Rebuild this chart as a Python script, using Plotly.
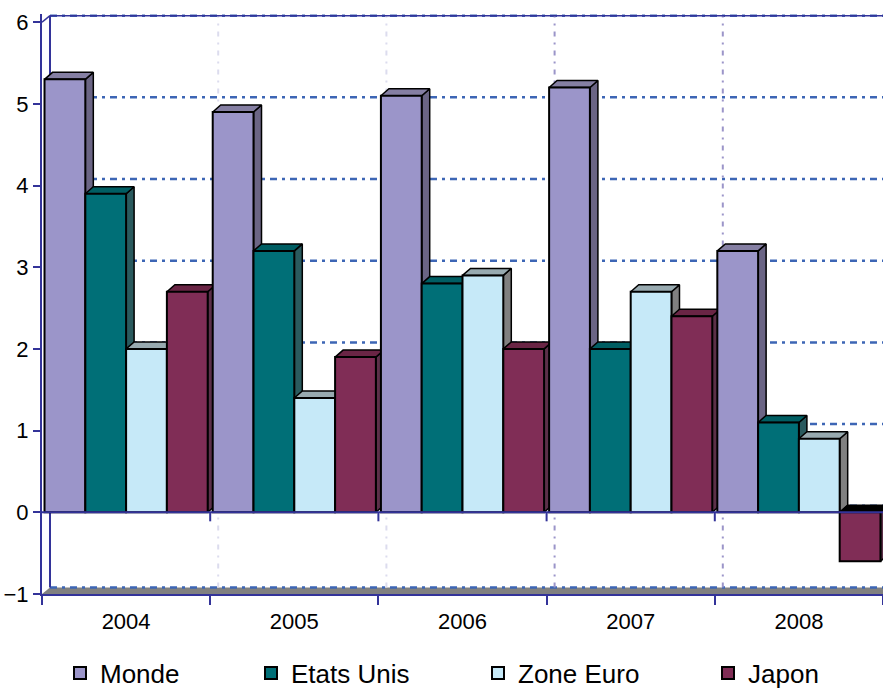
import plotly.graph_objects as go

# ---------------- data ----------------
years = ["2004", "2005", "2006", "2007", "2008"]
series_names = ["Monde", "Etats Unis", "Zone Euro", "Japon"]
monde = [5.3, 4.9, 5.1, 5.2, 3.2]
etats_unis = [3.9, 3.2, 2.8, 2.0, 1.1]
zone_euro = [2.0, 1.4, 2.9, 2.7, 0.9]
japon = [2.7, 1.9, 2.0, 2.4, -0.6]
y_ticks = [-1, 0, 1, 2, 3, 4, 5, 6]

series_values = [monde, etats_unis, zone_euro, japon]

# ---------------- styles ----------------
front_colors = ["#9B95C9", "#006F77", "#C6E9F8", "#802D56"]
top_colors = ["#857FA3", "#005E63", "#98AAB0", "#6A2545"]
side_colors = ["#6B6585", "#2A5A5E", "#808080", "#5C3049"]
axis_blue = "#333399"
grid_blue = "#3D66B5"
vgrid_colors = ["#DCDCEE", "#DCDCEE", "#9B95C9", "#9B95C9"]

W, H = 883, 688
ML, MR, MT, MB = 42, 0, 14, 94
X_RANGE = [-0.5, 4.5]
Y_RANGE = [-1, 6.1]
px_x = (W - ML - MR) / (X_RANGE[1] - X_RANGE[0])
px_y = (H - MT - MB) / (Y_RANGE[1] - Y_RANGE[0])
DX = 8 / px_x          # depth offset (x units)
DY = 7 / px_y          # depth offset (y units)
DYW = 6.5 / px_y       # back wall offset
BARGAP = 0.03
bw = (1 - BARGAP) / len(series_names)

fig = go.Figure()

# ---------- depth faces (main subplot, under the fronts) ----------
for s, vals in enumerate(series_values):
    sx, sy, tx, ty, nx, ny = [], [], [], [], [], []
    for i, v in enumerate(vals):
        x0 = i - (1 - BARGAP) / 2 + s * bw
        x1 = x0 + bw
        top = max(v, 0)
        # side face
        sx += [x1, x1, x1 + DX, x1 + DX, x1, None]
        sy += [min(v, 0), top, top + DY, min(v, 0) + DY, min(v, 0), None]
        # top face
        fx = [x0, x1, x1 + DX, x0 + DX, x0, None]
        fy = [top, top, top + DY, top + DY, top, None]
        if v < 0:
            nx += fx; ny += fy
        else:
            tx += fx; ty += fy
    fig.add_trace(go.Scatter(x=sx, y=sy, mode="lines", fill="toself",
                             fillcolor=side_colors[s], line=dict(color="black", width=1.5),
                             showlegend=False, hoverinfo="skip"))
    fig.add_trace(go.Scatter(x=tx, y=ty, mode="lines", fill="toself",
                             fillcolor=top_colors[s], line=dict(color="black", width=1.5),
                             showlegend=False, hoverinfo="skip"))
    if nx:
        fig.add_trace(go.Scatter(x=nx, y=ny, mode="lines", fill="toself",
                                 fillcolor="black", line=dict(color="black", width=1.5),
                                 showlegend=False, hoverinfo="skip"))

# ---------- bar fronts (overlay subplot, on top) ----------
legend_ids = ["legend", "legend2", "legend3", "legend4"]
for s, (name, vals) in enumerate(zip(series_names, series_values)):
    fig.add_trace(go.Bar(x=years, y=vals, name=name, xaxis="x2", yaxis="y2",
                         marker=dict(color=front_colors[s], line=dict(color="black", width=2)),
                         legend=legend_ids[s]))

# ---------- back wall, floor and grid (shapes) ----------
shapes = []
# floor
shapes.append(dict(type="path", xref="x", yref="y", layer="below",
                   path=f"M{X_RANGE[0]},{Y_RANGE[0]} L{X_RANGE[1] + DX},{Y_RANGE[0]} "
                        f"L{X_RANGE[1] + DX},{Y_RANGE[0] + DYW} L{X_RANGE[0] + DX},{Y_RANGE[0] + DYW} Z",
                   fillcolor="#808080", line=dict(width=0)))
# horizontal back-wall grid
for k in y_ticks:
    shapes.append(dict(type="line", xref="x", yref="y", layer="below",
                       x0=X_RANGE[0] + DX, x1=X_RANGE[1] + DX, y0=k + DYW, y1=k + DYW,
                       line=dict(color=grid_blue, width=2.5, dash="7px,5px,3px,5px")))
# vertical back-wall grid at category boundaries
for j, b in enumerate([0.5, 1.5, 2.5, 3.5]):
    shapes.append(dict(type="line", xref="x", yref="y", layer="below",
                       x0=b + DX, x1=b + DX, y0=Y_RANGE[0] + DYW, y1=y_ticks[-1] + DYW,
                       line=dict(color=vgrid_colors[j], width=2, dash="5px,6px,2px,6px")))
# back wall edges
shapes.append(dict(type="line", xref="x", yref="y", layer="below",
                   x0=X_RANGE[0] + DX, x1=X_RANGE[1] + DX, y0=y_ticks[-1] + DYW, y1=y_ticks[-1] + DYW,
                   line=dict(color=axis_blue, width=1.5)))
shapes.append(dict(type="line", xref="x", yref="y", layer="below",
                   x0=X_RANGE[0] + DX, x1=X_RANGE[0] + DX, y0=Y_RANGE[0] + DYW, y1=y_ticks[-1] + DYW,
                   line=dict(color=axis_blue, width=2)))
shapes.append(dict(type="line", xref="x", yref="y", layer="below",
                   x0=X_RANGE[0], x1=X_RANGE[0] + DX, y0=y_ticks[-1], y1=y_ticks[-1] + DYW,
                   line=dict(color=axis_blue, width=1.5)))
# zero line with boundary ticks
shapes.append(dict(type="line", xref="x", yref="y", layer="above",
                   x0=X_RANGE[0], x1=X_RANGE[1], y0=0, y1=0,
                   line=dict(color=axis_blue, width=2)))
for b in [0.5, 1.5, 2.5, 3.5]:
    shapes.append(dict(type="line", xref="x", yref="y", layer="above",
                       x0=b, x1=b, y0=0, y1=-9 / px_y,
                       line=dict(color=axis_blue, width=2)))

tick_font = dict(family="Liberation Sans, Arial", size=22, color="black")
legend_font = dict(family="Liberation Sans, Arial", size=26, color="black")

legend_text_x = [102, 293, 520, 750]
legend_center_y = 673
legend_common = dict(orientation="h", yanchor="middle", xanchor="left",
                     yref="container", y=(H - legend_center_y) / H,
                     font=legend_font, bgcolor="rgba(0,0,0,0)", itemclick=False)
legends = {}
for lid, tx in zip(legend_ids, legend_text_x):
    legends[lid] = dict(legend_common, x=(tx - 42 - ML) / (W - ML - MR))

fig.update_layout(
    width=W, height=H,
    margin=dict(l=ML, r=MR, t=MT, b=MB, pad=0, autoexpand=False),
    paper_bgcolor="white", plot_bgcolor="white",
    barmode="group", bargap=BARGAP, bargroupgap=0,
    shapes=shapes,
    xaxis=dict(range=X_RANGE, visible=False, fixedrange=True),
    yaxis=dict(range=Y_RANGE, tickvals=y_ticks, ticks="outside", ticklen=7, tickwidth=2,
               tickcolor=axis_blue, showline=True, linecolor=axis_blue, linewidth=2,
               showgrid=False, zeroline=False, tickfont=tick_font, fixedrange=True),
    xaxis2=dict(type="category", overlaying="x", anchor="y2", side="bottom", range=X_RANGE,
                tickson="boundaries", ticks="outside", ticklen=9, tickwidth=2, tickcolor=axis_blue,
                showline=True, linecolor=axis_blue, linewidth=2, showgrid=False,
                tickfont=tick_font, fixedrange=True, ticklabelstandoff=7),
    yaxis2=dict(overlaying="y", range=Y_RANGE, visible=False, fixedrange=True),
    **legends,
)

fig.write_html("out.html")
